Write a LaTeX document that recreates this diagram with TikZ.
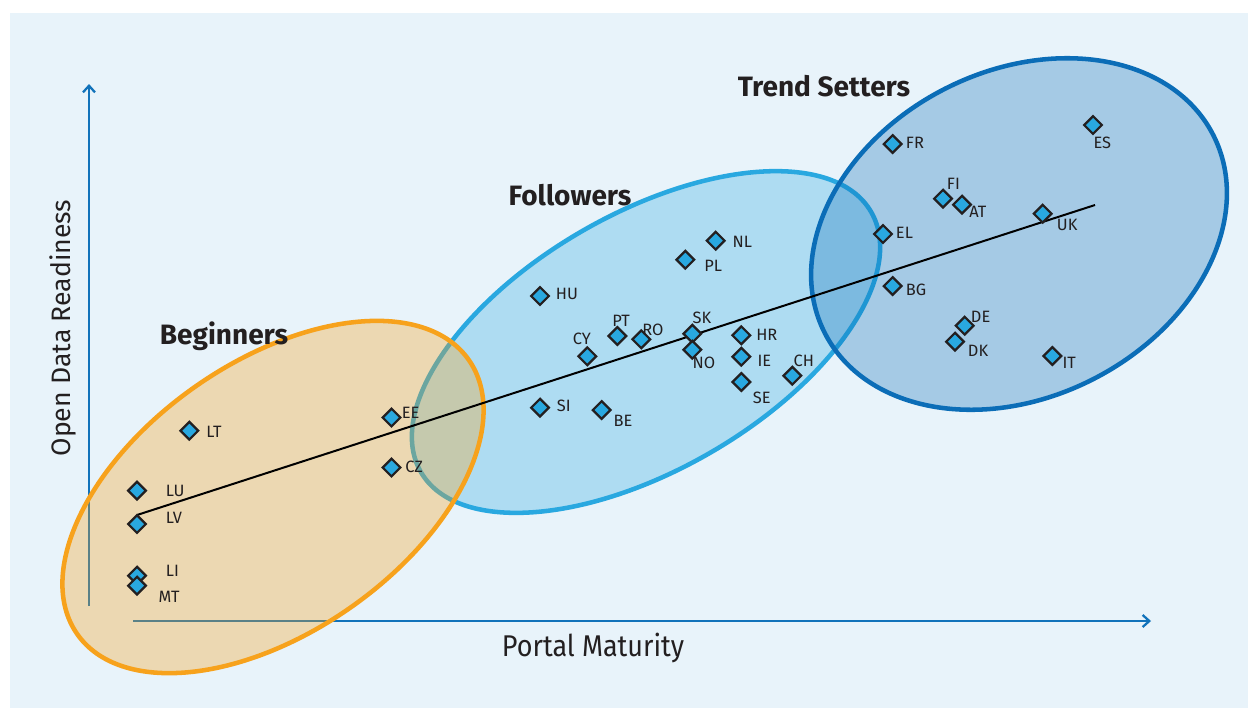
\documentclass[tikz,border=0pt]{standalone}
\usepackage{fontspec}
\setmainfont{Fira Sans}
\newfontfamily\condfont[FakeStretch=0.9]{Fira Sans}
\usetikzlibrary{shapes.geometric,arrows.meta}
\definecolor{bgblue}{HTML}{E8F3FA}
\definecolor{axisblue}{HTML}{1172BA}
\definecolor{orangeG}{HTML}{F7A21C}
\definecolor{followG}{HTML}{29A8E0}
\definecolor{trendG}{HTML}{0B6DB7}
\definecolor{ptfill}{HTML}{29A8E0}
\definecolor{ink}{HTML}{231F20}
\tikzset{
  pt/.style={shape=diamond,draw=ink,fill=ptfill,line width=1.7pt,inner sep=0pt,minimum size=14pt},
  lab/.style={anchor=west,inner sep=0pt,text=ink,font=\fontsize{12.3}{12.3}\selectfont},
  grouptitle/.style={inner sep=0pt,text=ink,font=\fontsize{21}{21}\selectfont\bfseries},
  axislabel/.style={inner sep=0pt,text=ink,font=\fontsize{20}{20}\selectfont},
  axisline/.style={draw=axisblue,line width=2pt,-{Straight Barb[length=5pt,width=9pt,line width=1.7pt]}},
  grp/.style={line width=3.4pt}
}
\begin{document}
\begin{tikzpicture}[x=0.75pt,y=-0.75pt]
\useasboundingbox (0,0) rectangle (1248,708);
\fill[white] (0,0) rectangle (1248,708);
\fill[bgblue] (10,13) rectangle (1248,708);
% axes
\coordinate (yb) at (89,606);
\coordinate (yt) at (89,84);
\coordinate (xl) at (133,621);
\coordinate (xr) at (1151,621);
\draw[axisline] (yb) -- (yt);
\draw[axisline] (xl) -- (xr);
% groups
\draw[grp,draw=followG,fill=followG,fill opacity=0.3] [rotate around={30:(646,342)}] (646,342) ellipse [x radius=260, y radius=128];
\draw[grp,draw=trendG,fill=trendG,fill opacity=0.3] [rotate around={27:(1019,234)}] (1019,234) ellipse [x radius=218, y radius=163];
\draw[grp,draw=orangeG,fill=orangeG,fill opacity=0.32] [rotate around={35:(273,497)}] (273,497) ellipse [x radius=239, y radius=135];
% titles
\node[grouptitle] (tBeg) at (224,336) {Beginners};
\node[grouptitle] (tFol) at (570,195) {Followers};
\node[grouptitle] (tTre) at (824,86) {Trend Setters};
\node[axislabel,rotate=90] (yl) at (63,328) {Open Data Readiness};
\node[axislabel,font=\fontsize{22.5}{22.5}\condfont] (xlab) at (593,648) {Portal Maturity};
% trend line
\coordinate (ls) at (137,515);
\coordinate (le) at (1095,205);
\draw[black,line width=1.5pt] (ls) -- (le);
% points
\node[pt] (LT) at (189.3,430.7) {};
\node[pt] (LU) at (137,490.7) {};
\node[pt] (LV) at (137,524) {};
\node[pt] (LI) at (137,575.7) {};
\node[pt] (MT) at (137,585.7) {};
\node[pt] (EE) at (391.5,417.5) {};
\node[pt] (CZ) at (391.5,467.5) {};
\node[pt] (HU) at (540,296) {};
\node[pt] (NL) at (715.7,240.7) {};
\node[pt] (PL) at (685.3,259.7) {};
\node[pt] (PT) at (617.3,336) {};
\node[pt] (RO) at (641.3,339.3) {};
\node[pt] (CY) at (587.3,356.3) {};
\node[pt] (SK) at (692.3,333.7) {};
\node[pt] (NO) at (692.3,349.7) {};
\node[pt] (HR) at (741.3,335.3) {};
\node[pt] (IE) at (741.3,356.7) {};
\node[pt] (SE) at (741.3,382) {};
\node[pt] (CH) at (792.3,375.7) {};
\node[pt] (SI) at (540,407.7) {};
\node[pt] (BE) at (601.7,410) {};
\node[pt] (FR) at (892.7,144) {};
\node[pt] (ES) at (1093,125) {};
\node[pt] (FI) at (943,198.7) {};
\node[pt] (AT) at (962,204.7) {};
\node[pt] (UK) at (1042.7,213.7) {};
\node[pt] (EL) at (883,234) {};
\node[pt] (BG) at (892.7,286) {};
\node[pt] (DE) at (964.7,325.7) {};
\node[pt] (DK) at (955,341.7) {};
\node[pt] (IT) at (1052.3,356) {};
% labels
\node[lab] (lLT) at (206,431.7) {LT};
\node[lab] (lLU) at (165.7,490.7) {LU};
\node[lab] (lLV) at (165.7,518.3) {LV};
\node[lab] (lLI) at (165.7,570.7) {LI};
\node[lab] (lMT) at (158.3,597.3) {MT};
\node[lab] (lEE) at (401.7,413.3) {EE};
\node[lab] (lCZ) at (405,467) {CZ};
\node[lab] (lHU) at (555.7,294) {HU};
\node[lab] (lNL) at (732.3,241.7) {NL};
\node[lab] (lPL) at (704,266.3) {PL};
\node[lab] (lPT) at (612,320.7) {PT};
\node[lab] (lRO) at (642,330) {RO};
\node[lab] (lCY) at (572.7,339) {CY};
\node[lab] (lSK) at (692.3,318.3) {SK};
\node[lab] (lNO) at (692.3,363.3) {NO};
\node[lab] (lHR) at (756,335) {HR};
\node[lab] (lIE) at (757.3,361) {IE};
\node[lab] (lSE) at (752.7,398.3) {SE};
\node[lab] (lCH) at (793.3,361) {CH};
\node[lab] (lSI) at (556.7,405.7) {SI};
\node[lab] (lBE) at (613.3,420.7) {BE};
\node[lab] (lFR) at (905.7,143.3) {FR};
\node[lab] (lES) at (1093.3,142.7) {ES};
\node[lab] (lFI) at (946.7,184) {FI};
\node[lab] (lAT) at (969,212.3) {AT};
\node[lab] (lUK) at (1056.7,225) {UK};
\node[lab] (lEL) at (895.7,233.3) {EL};
\node[lab] (lBG) at (905.7,290) {BG};
\node[lab] (lDE) at (970.7,317.3) {DE};
\node[lab] (lDK) at (967.7,351) {DK};
\node[lab] (lIT) at (1062.3,362.7) {IT};
\end{tikzpicture}
\end{document}
